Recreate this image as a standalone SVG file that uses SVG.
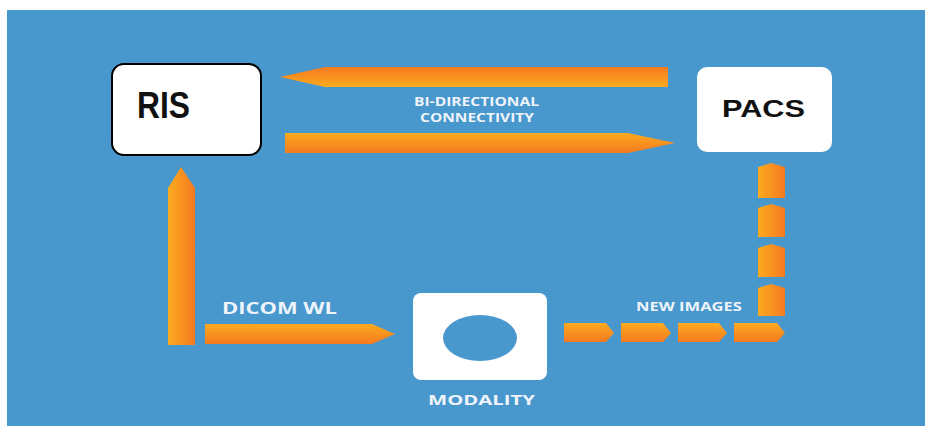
<svg xmlns="http://www.w3.org/2000/svg" width="925" height="426" viewBox="0 0 925 426">
  <style>
    .box { fill: #ffffff; }
    .lbl { font-family: "Open Sans", "Liberation Sans", sans-serif; font-weight: 700; fill: #eef4fa; }
    .dark { font-family: "Liberation Sans", Arial, sans-serif; font-weight: 700; fill: #111111; }
  </style>
  <defs>
    <!-- vertical fades for horizontal arrows -->
    <linearGradient id="gDown" x1="0" y1="0" x2="0" y2="1">
      <stop offset="0" stop-color="#f47a20"/>
      <stop offset="1" stop-color="#fcaa1f"/>
    </linearGradient>
    <linearGradient id="gUp" x1="0" y1="0" x2="0" y2="1">
      <stop offset="0" stop-color="#fcaa1f"/>
      <stop offset="1" stop-color="#f47a20"/>
    </linearGradient>
    <!-- horizontal fade for vertical arrows -->
    <linearGradient id="gSide" x1="0" y1="0" x2="1" y2="0">
      <stop offset="0" stop-color="#fcaa1f"/>
      <stop offset="1" stop-color="#f47a20"/>
    </linearGradient>
  </defs>

  <!-- backdrop -->
  <rect x="0" y="0" width="925" height="426" fill="#ffffff"/>
  <rect x="7" y="10" width="918" height="416" fill="#4897cd"/>

  <!-- connectors -->
  <g id="connectors">
    <!-- PACS to RIS -->
    <polygon points="668,67 668,87 325,87 280,77 325,67" fill="url(#gDown)"/>
    <!-- RIS to PACS -->
    <polygon points="285,133 628,133 675,143 628,153 285,153" fill="url(#gUp)"/>
    <!-- Modality up to RIS -->
    <polygon points="168,345 168,188 181,167 195,188 195,345" fill="url(#gSide)"/>
    <!-- DICOM worklist to modality -->
    <polygon points="205,324 372,324 395,334 372,344 205,344" fill="url(#gUp)"/>
    <!-- new images, dashed chain -->
    <g fill="url(#gUp)">
      <polygon points="564,323 606,323 614,333 606,342 564,342"/>
      <polygon points="621,323 663,323 671,333 663,342 621,342"/>
      <polygon points="678,323 719,323 727,333 719,342 678,342"/>
      <polygon points="734,323 777,323 785,333 777,342 734,342"/>
    </g>
    <g fill="url(#gSide)">
      <polygon points="758,316 758,288 771,284 785,288 785,316"/>
      <polygon points="758,277 758,248 771,244 785,248 785,277"/>
      <polygon points="758,237 758,208 771,204 785,208 785,237"/>
      <polygon points="758,198 758,167 771,163 785,167 785,198"/>
    </g>
    <text class="lbl" x="414" y="106" font-size="12.5" textLength="125" lengthAdjust="spacingAndGlyphs">BI-DIRECTIONAL</text>
    <text class="lbl" x="420" y="122" font-size="12.5" textLength="114" lengthAdjust="spacingAndGlyphs">CONNECTIVITY</text>
    <text class="lbl" x="222" y="314" font-size="15.5" textLength="115" lengthAdjust="spacingAndGlyphs">DICOM WL</text>
    <text class="lbl" x="636" y="311" font-size="11.5" textLength="106" lengthAdjust="spacingAndGlyphs">NEW IMAGES</text>
  </g>

  <!-- RIS -->
  <g id="ris">
    <rect x="112" y="64" width="149" height="91" rx="12" fill="#ffffff" stroke="#000000" stroke-width="2"/>
    <text class="dark" x="137" y="118" font-size="36" textLength="53" lengthAdjust="spacingAndGlyphs">RIS</text>
  </g>

  <!-- PACS -->
  <g id="pacs">
    <rect class="box" x="697" y="67" width="135" height="85" rx="10"/>
    <text class="dark" x="722" y="117" font-size="23" textLength="83" lengthAdjust="spacingAndGlyphs">PACS</text>
  </g>

  <!-- Modality -->
  <g id="modality">
    <rect class="box" x="413" y="293" width="134" height="87" rx="8"/>
    <ellipse cx="480" cy="338" rx="37" ry="23" fill="#4897cd"/>
    <text class="lbl" x="428" y="405" font-size="14" textLength="107" lengthAdjust="spacingAndGlyphs">MODALITY</text>
  </g>
</svg>
